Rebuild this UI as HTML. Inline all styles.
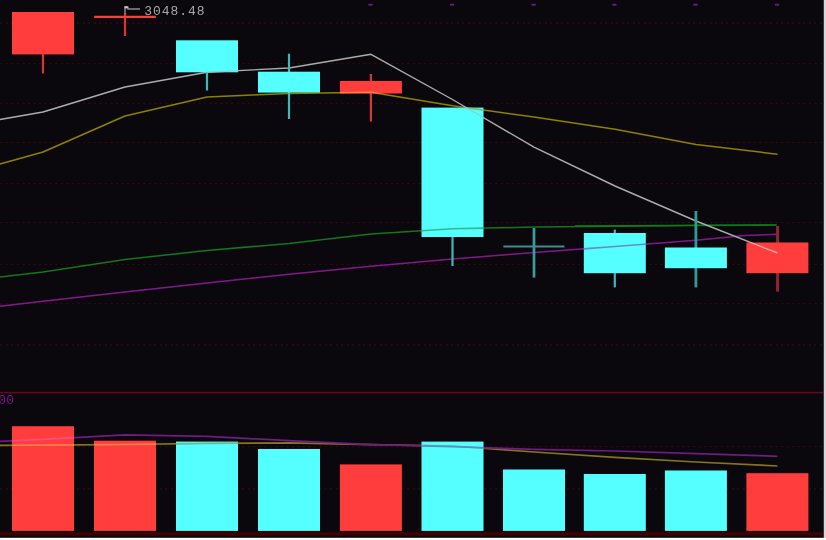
<!DOCTYPE html>
<html><head><meta charset="utf-8"><title>K-line chart</title>
<style>html,body{margin:0;padding:0;background:#fff;overflow:hidden}#chart{position:absolute;left:0;top:0;width:826px;height:540px;display:block}text{font-family:"Liberation Mono","Liberation Sans",monospace}</style></head><body>
<svg id="chart" width="826" height="540" viewBox="0 0 826 540">
<defs><filter id="b" x="-5%" y="-5%" width="110%" height="110%"><feGaussianBlur stdDeviation="0.5"/></filter></defs>
<rect x="0" y="0" width="826" height="540" fill="#ffffff"/>
<rect x="823.8" y="0" width="2.2" height="538" fill="#d8d6da"/>
<rect x="0" y="0" width="823.8" height="537.8" fill="#0a080c"/>
<g filter="url(#b)">
<line x1="0" y1="23.0" x2="823" y2="23.0" stroke="#260d0f" stroke-width="1.5" stroke-dasharray="2.7 2.8"/>
<line x1="0" y1="63.5" x2="823" y2="63.5" stroke="#260d0f" stroke-width="1.5" stroke-dasharray="2.7 2.8"/>
<line x1="0" y1="103.2" x2="823" y2="103.2" stroke="#260d0f" stroke-width="1.5" stroke-dasharray="2.7 2.8"/>
<line x1="0" y1="142.6" x2="823" y2="142.6" stroke="#260d0f" stroke-width="1.5" stroke-dasharray="2.7 2.8"/>
<line x1="0" y1="183.8" x2="823" y2="183.8" stroke="#260d0f" stroke-width="1.5" stroke-dasharray="2.7 2.8"/>
<line x1="0" y1="222.8" x2="823" y2="222.8" stroke="#260d0f" stroke-width="1.5" stroke-dasharray="2.7 2.8"/>
<line x1="0" y1="264.4" x2="823" y2="264.4" stroke="#260d0f" stroke-width="1.5" stroke-dasharray="2.7 2.8"/>
<line x1="0" y1="303.6" x2="823" y2="303.6" stroke="#260d0f" stroke-width="1.5" stroke-dasharray="2.7 2.8"/>
<line x1="0" y1="345.0" x2="823" y2="345.0" stroke="#260d0f" stroke-width="1.5" stroke-dasharray="2.7 2.8"/>
<line x1="0" y1="446.8" x2="823" y2="446.8" stroke="#260d0f" stroke-width="1.5" stroke-dasharray="2.7 2.8"/>
<line x1="0" y1="489" x2="823" y2="489" stroke="#260d0f" stroke-width="1.5" stroke-dasharray="2.7 2.8"/>
<line x1="0" y1="392.6" x2="823" y2="392.6" stroke="#5c0a1a" stroke-width="1.8"/>
<line x1="0" y1="533.9" x2="823" y2="533.9" stroke="#430405" stroke-width="3.2"/>
<rect x="368.4" y="3.8" width="4.2" height="1.8" fill="#64267a"/>
<rect x="450.0" y="3.8" width="4.2" height="1.8" fill="#64267a"/>
<rect x="531.5" y="3.8" width="4.2" height="1.8" fill="#64267a"/>
<rect x="612.3" y="3.8" width="4.2" height="1.8" fill="#64267a"/>
<rect x="693.4" y="3.8" width="4.2" height="1.8" fill="#64267a"/>
<rect x="774.9" y="3.8" width="4.2" height="1.8" fill="#64267a"/>
<polyline fill="none" stroke="#12761c" stroke-width="1.55" stroke-linejoin="round" stroke-opacity="1" points="0,277 43,272 125,259.5 207,250.5 289,243.5 371,234 452.5,228.7 500,227.8 534,227.0 615,226.3 696,225.6 776.5,225.1"/>
<polyline fill="none" stroke="#127a1c" stroke-width="1.3" stroke-linejoin="round" stroke-opacity="1" points="575,226.0 776.5,224.9"/>
<polyline fill="none" stroke="#84198c" stroke-width="1.55" stroke-linejoin="round" stroke-opacity="1" points="0,306.2 43,301.2 125,292 207,283 289,274.2 371,266.3 452.5,259 534,252.5 615,246.5 696,240.2 745,235.5 776.5,234.3"/>
<polyline fill="none" stroke="#8e8000" stroke-width="1.5" stroke-linejoin="round" stroke-opacity="1" points="0,164 43,152 125,116 207,97 289,93.5 371,92.3 452.5,105.8 534,117 615,129.2 696,144.6 777.5,154.2"/>
<polyline fill="none" stroke="#acacac" stroke-width="1.4" stroke-linejoin="round" stroke-opacity="1" points="0,119.5 43,112 125,87 207,72.2 289,68 371,54.3 452.5,99.5 534,147.2 615,186 696,221 777.5,253"/>
<polyline fill="none" stroke="#84761a" stroke-width="1.7" stroke-linejoin="round" stroke-opacity="1" points="0,445.3 43,445.1 125,444.5 207,443.4 289,442.8 371,444.6 452.5,446 534,452 615,457.3 696,462 777.5,466"/>
<polyline fill="none" stroke="#701a84" stroke-width="1.7" stroke-linejoin="round" stroke-opacity="1" points="0,441.3 43,439.3 125,434.8 207,436.3 289,440.7 371,444.6 452.5,446.7 534,449.3 615,451 696,453.6 777.5,456.3"/>
<line x1="43" y1="54" x2="43" y2="73.5" stroke="#d83434" stroke-width="2.2"/>
<rect x="12.0" y="12" width="62" height="42.4" fill="#ff3c3c"/>
<line x1="125" y1="13" x2="125" y2="36" stroke="#d83434" stroke-width="2.2"/>
<line x1="94.2" y1="16.9" x2="155.8" y2="16.9" stroke="#ff3c3c" stroke-width="2.2"/>
<line x1="207" y1="72" x2="207" y2="90.5" stroke="#3fb8b8" stroke-width="2.2"/>
<rect x="176.0" y="40.3" width="62" height="32.0" fill="#54ffff"/>
<line x1="289" y1="53.7" x2="289" y2="119" stroke="#3fb8b8" stroke-width="2.2"/>
<rect x="258.0" y="71.7" width="62" height="20.9" fill="#54ffff"/>
<line x1="370.9" y1="74" x2="370.9" y2="121.5" stroke="#d83434" stroke-width="2.2"/>
<rect x="339.9" y="81" width="62" height="12.5" fill="#ff3c3c"/>
<line x1="452.5" y1="236" x2="452.5" y2="266" stroke="#3fb8b8" stroke-width="2.2"/>
<rect x="421.5" y="107.6" width="62" height="129.4" fill="#54ffff"/>
<line x1="534" y1="228" x2="534" y2="277.6" stroke="#3a9c9a" stroke-width="2.7"/>
<line x1="503.4" y1="246.6" x2="564.5" y2="246.6" stroke="#379090" stroke-width="2.0"/>
<line x1="614.8" y1="229.6" x2="614.8" y2="287.4" stroke="#3fb8b8" stroke-width="2.2"/>
<rect x="583.8" y="233" width="62" height="40.2" fill="#54ffff"/>
<line x1="695.9" y1="211" x2="695.9" y2="287.4" stroke="#2f9a9a" stroke-width="2.8"/>
<rect x="664.9" y="247.5" width="62" height="20.7" fill="#54ffff"/>
<line x1="777.6" y1="226" x2="777.6" y2="291.6" stroke="#8c2830" stroke-width="3.0"/>
<rect x="746.4" y="242.5" width="62" height="30.7" fill="#ff3c3c"/>
<rect x="12.0" y="426.2" width="62" height="104.7" fill="#ff3c3c"/>
<rect x="94.0" y="440.7" width="62" height="90.2" fill="#ff3c3c"/>
<rect x="176.0" y="441.6" width="62" height="89.3" fill="#54ffff"/>
<rect x="258.0" y="449" width="62" height="81.9" fill="#54ffff"/>
<rect x="339.9" y="464.4" width="62" height="66.5" fill="#ff3c3c"/>
<rect x="421.5" y="441.6" width="62" height="89.3" fill="#54ffff"/>
<rect x="503.0" y="469.5" width="62" height="61.4" fill="#54ffff"/>
<rect x="583.8" y="474" width="62" height="56.9" fill="#54ffff"/>
<rect x="664.9" y="470.5" width="62" height="60.4" fill="#54ffff"/>
<rect x="746.4" y="473.2" width="62" height="57.7" fill="#ff3c3c"/>
<clipPath id="rb"><rect x="12.0" y="12.0" width="62" height="42.4"/><rect x="339.9" y="81.0" width="62" height="12.5"/><rect x="746.4" y="242.5" width="62" height="30.7"/><rect x="12.0" y="426.2" width="62" height="104.7"/><rect x="94.0" y="440.7" width="62" height="90.2"/><rect x="339.9" y="464.4" width="62" height="66.5"/><rect x="746.4" y="473.2" width="62" height="57.7"/></clipPath>
<clipPath id="cb"><rect x="176.0" y="40.3" width="62" height="32.0"/><rect x="258.0" y="71.7" width="62" height="20.9"/><rect x="421.5" y="107.6" width="62" height="129.4"/><rect x="583.8" y="233.0" width="62" height="40.2"/><rect x="664.9" y="247.5" width="62" height="20.7"/><rect x="176.0" y="441.6" width="62" height="89.3"/><rect x="258.0" y="449.0" width="62" height="81.9"/><rect x="421.5" y="441.6" width="62" height="89.3"/><rect x="503.0" y="469.5" width="62" height="61.4"/><rect x="583.8" y="474.0" width="62" height="56.9"/><rect x="664.9" y="470.5" width="62" height="60.4"/></clipPath>
<g clip-path="url(#rb)" style="mix-blend-mode:screen" opacity="0.75">
<polyline fill="none" stroke="#12761c" stroke-width="1.55" stroke-linejoin="round" stroke-opacity="1" points="0,277 43,272 125,259.5 207,250.5 289,243.5 371,234 452.5,228.7 500,227.8 534,227.0 615,226.3 696,225.6 776.5,225.1"/>
<polyline fill="none" stroke="#127a1c" stroke-width="1.3" stroke-linejoin="round" stroke-opacity="1" points="575,226.0 776.5,224.9"/>
<polyline fill="none" stroke="#84198c" stroke-width="1.55" stroke-linejoin="round" stroke-opacity="1" points="0,306.2 43,301.2 125,292 207,283 289,274.2 371,266.3 452.5,259 534,252.5 615,246.5 696,240.2 745,235.5 776.5,234.3"/>
<polyline fill="none" stroke="#8e8000" stroke-width="1.5" stroke-linejoin="round" stroke-opacity="1" points="0,164 43,152 125,116 207,97 289,93.5 371,92.3 452.5,105.8 534,117 615,129.2 696,144.6 777.5,154.2"/>
<polyline fill="none" stroke="#acacac" stroke-width="1.4" stroke-linejoin="round" stroke-opacity="1" points="0,119.5 43,112 125,87 207,72.2 289,68 371,54.3 452.5,99.5 534,147.2 615,186 696,221 777.5,253"/>
<polyline fill="none" stroke="#84761a" stroke-width="1.7" stroke-linejoin="round" stroke-opacity="1" points="0,445.3 43,445.1 125,444.5 207,443.4 289,442.8 371,444.6 452.5,446 534,452 615,457.3 696,462 777.5,466"/>
<polyline fill="none" stroke="#701a84" stroke-width="1.7" stroke-linejoin="round" stroke-opacity="1" points="0,441.3 43,439.3 125,434.8 207,436.3 289,440.7 371,444.6 452.5,446.7 534,449.3 615,451 696,453.6 777.5,456.3"/>
</g>
<g clip-path="url(#cb)" opacity="0.5">
<polyline fill="none" stroke="#12761c" stroke-width="1.55" stroke-linejoin="round" stroke-opacity="1" points="0,277 43,272 125,259.5 207,250.5 289,243.5 371,234 452.5,228.7 500,227.8 534,227.0 615,226.3 696,225.6 776.5,225.1"/>
<polyline fill="none" stroke="#127a1c" stroke-width="1.3" stroke-linejoin="round" stroke-opacity="1" points="575,226.0 776.5,224.9"/>
<polyline fill="none" stroke="#84198c" stroke-width="1.55" stroke-linejoin="round" stroke-opacity="1" points="0,306.2 43,301.2 125,292 207,283 289,274.2 371,266.3 452.5,259 534,252.5 615,246.5 696,240.2 745,235.5 776.5,234.3"/>
<polyline fill="none" stroke="#8e8000" stroke-width="1.5" stroke-linejoin="round" stroke-opacity="1" points="0,164 43,152 125,116 207,97 289,93.5 371,92.3 452.5,105.8 534,117 615,129.2 696,144.6 777.5,154.2"/>
<polyline fill="none" stroke="#acacac" stroke-width="1.4" stroke-linejoin="round" stroke-opacity="1" points="0,119.5 43,112 125,87 207,72.2 289,68 371,54.3 452.5,99.5 534,147.2 615,186 696,221 777.5,253"/>
<polyline fill="none" stroke="#84761a" stroke-width="1.7" stroke-linejoin="round" stroke-opacity="1" points="0,445.3 43,445.1 125,444.5 207,443.4 289,442.8 371,444.6 452.5,446 534,452 615,457.3 696,462 777.5,466"/>
<polyline fill="none" stroke="#701a84" stroke-width="1.7" stroke-linejoin="round" stroke-opacity="1" points="0,441.3 43,439.3 125,434.8 207,436.3 289,440.7 371,444.6 452.5,446.7 534,449.3 615,451 696,453.6 777.5,456.3"/>
</g>
<polyline fill="none" stroke="#8c8c8c" stroke-width="1.4" points="125,14 125,7.2 128,7.2 128,9 140,9"/>
<rect x="124.6" y="6.2" width="3.2" height="2.2" fill="#c8c8c8"/>
<text x="144.3" y="14.8" font-size="13" letter-spacing="0.95" fill="#a8a8a8">3048.48</text>
<text x="-1.8" y="404" font-size="13" letter-spacing="0.3" fill="#7a1a8a">00</text>
</g>
</svg></body></html>
